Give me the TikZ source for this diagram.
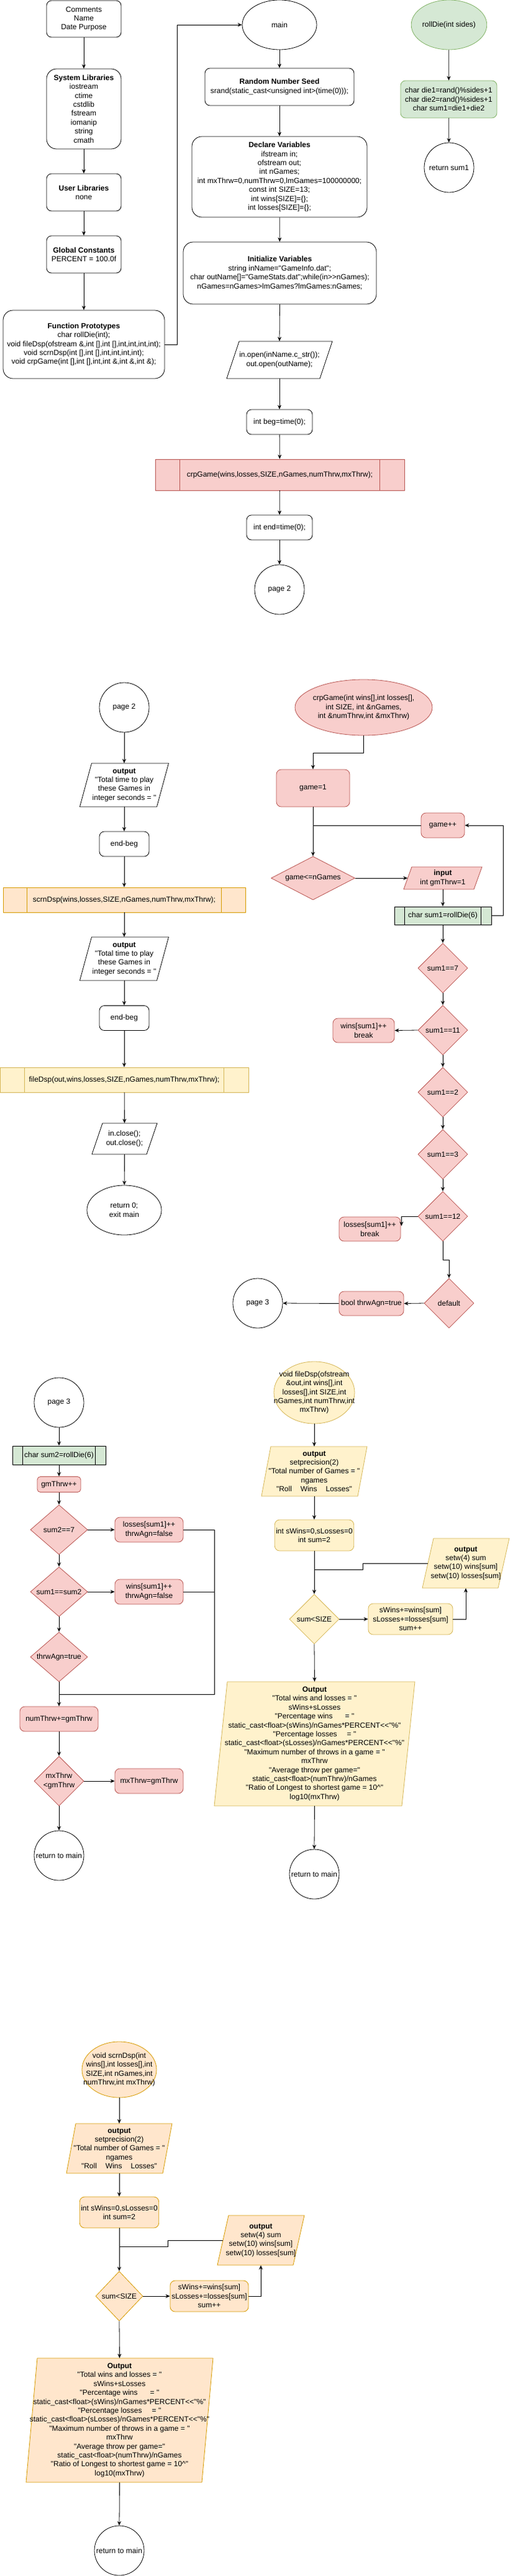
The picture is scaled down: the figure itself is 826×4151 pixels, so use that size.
\documentclass[tikz,border=0pt]{standalone}
\usepackage{fontspec}
\setmainfont{Liberation Sans}[Ligatures=TeXOff]
\usetikzlibrary{shapes.geometric,arrows.meta}
\definecolor{redF}{HTML}{F8CECC}\definecolor{redD}{HTML}{B85450}
\definecolor{grnF}{HTML}{D5E8D4}\definecolor{grnD}{HTML}{82B366}
\definecolor{pchF}{HTML}{FFE6CC}\definecolor{pchD}{HTML}{D79B00}
\definecolor{ylwF}{HTML}{FFF2CC}\definecolor{ylwD}{HTML}{D6B656}
\newcommand{\pgram}[8]{%
  \path[ln,#7] ({#2-#4/2+#6},{#3-#5/2}) -- ({#2+#4/2},{#3-#5/2}) -- ({#2+#4/2-#6},{#3+#5/2}) -- ({#2-#4/2},{#3+#5/2}) -- cycle;
  \node[txt, minimum width=#4, minimum height=#5] (#1) at (#2,#3) {#8};}
\newcommand{\bigouttext}{\textbf{Output}\\
"Total wins and losses = "\\
sWins+sLosses\\
"Percentage wins\hspace{20pt}= "\\
static\_cast<float>(sWins)/nGames*PERCENT<<"\%"\\
"Percentage losses\hspace{16pt}= "\\
static\_cast<float>(sLosses)/nGames*PERCENT<<"\%"\\
"Maximum number of throws in a game = "\\
mxThrw\\
"Average throw per game="\\
static\_cast<float>(numThrw)/nGames\\
"Ratio of Longest to shortest game = 10\textasciicircum"\\
log10(mxThrw)}
\newcommand{\setprectext}{\textbf{output}\\setprecision(2)\\"Total number of Games = "\\ngames\\"Roll\hspace{14pt}Wins\hspace{14pt}Losses"}
\newcommand{\setwtext}{\textbf{output}\\setw(4) sum\\setw(10) wins[sum]\\setw(10) losses[sum]}
\newcommand{\addtext}{sWins+=wins[sum]\\sLosses+=losses[sum]\\sum++}
\newcommand{\ttext}{\textbf{output}\\"Total time to play\\these Games in\\integer seconds = "}
\tikzset{
  every node/.style={font=\fontsize{12}{14.4}\selectfont, align=center},
  ln/.style={line width=0.8pt},
  arr/.style={ln, -{Stealth[length=7pt,width=6pt]}},
  rbox/.style={draw, ln, rounded corners=8pt, fill=white, inner sep=2pt},
  rboxL/.style={rbox, rounded corners=16pt},
  redS/.style={fill=redF, draw=redD},
  grnS/.style={fill=grnF, draw=grnD},
  pchS/.style={fill=pchF, draw=pchD},
  ylwS/.style={fill=ylwF, draw=ylwD},
  plain/.style={fill=white, draw=black},
  dia/.style={diamond, draw, ln, inner sep=0pt},
  ell/.style={ellipse, draw, ln, inner sep=0pt, fill=white},
  circ/.style={circle, draw, ln, inner sep=0pt, minimum size=80pt, fill=white},
  sub/.style={rectangle, draw, ln, inner sep=2pt},
  txt/.style={inner sep=0pt},
  sz/.style 2 args={minimum width=#1, minimum height=#2},
}
\begin{document}
\begin{tikzpicture}[x=1pt,y=-1pt]
\fill[white] (0,0) rectangle (826,4151);
\useasboundingbox (0,0) rectangle (826,4151);

% ===== main program, left column =====
\node[rbox, sz={120}{59}] (cmt) at (135,30.5) {Comments\\Name\\Date Purpose};
\node[rboxL, sz={120}{129}] (syslib) at (135,175.5) {\textbf{System Libraries}\\iostream\\ctime\\cstdlib\\fstream\\iomanip\\string\\cmath};
\node[rbox, sz={120}{60}] (usrlib) at (135,310) {\textbf{User Libraries}\\none};
\node[rbox, sz={120}{60}] (glob) at (135,410) {\textbf{Global Constants}\\PERCENT = 100.0f};
\node[rboxL, sz={260}{110}] (proto) at (135,555) {\textbf{Function Prototypes}\\char rollDie(int);\\void fileDsp(ofstream \&,int [],int [],int,int,int,int);\\void scrnDsp(int [],int [],int,int,int,int);\\void crpGame(int [],int [],int,int \&,int \&,int \&);};
\draw[arr] (cmt) -- (syslib);
\draw[arr] (syslib) -- (usrlib);
\draw[arr] (usrlib) -- (glob);
\draw[arr] (glob) -- (proto);

% ===== main =====
\node[ell, sz={120}{80}] (main) at (450,40) {main};
\draw[arr] (proto.east) -- ++(20,0) |- (main.west);
\node[rbox, sz={240}{60}] (seed) at (450,140) {\textbf{Random Number Seed}\\srand(static\_cast<unsigned int>(time(0)));};
\node[rboxL, sz={282}{130}] (decl) at (450,285) {\textbf{Declare Variables}\\ifstream in;\\ofstream out;\\int nGames;\\int mxThrw=0,numThrw=0,lmGames=100000000;\\const int SIZE=13;\\int wins[SIZE]=\{\};\\int losses[SIZE]=\{\};};
\node[rboxL, sz={311}{100}] (init) at (450.5,440) {\textbf{Initialize Variables}\\string inName="GameInfo.dat";\\char outName[]="GameStats.dat";while(in>>nGames);\\nGames=nGames>lmGames?lmGames:nGames;};
\pgram{io1}{450}{580}{170}{60}{20}{plain}{in.open(inName.c\_str());\\out.open(outName);}
\node[rbox, sz={106}{40}] (beg) at (450,680) {int beg=time(0);};
\node[sub, redS, sz={401}{50}] (crp) at (450.5,765) {crpGame(wins,losses,SIZE,nGames,numThrw,mxThrw);};
\draw[ln, redD] ([xshift=40pt]crp.north west) -- ([xshift=40pt]crp.south west);
\draw[ln, redD] ([xshift=-40pt]crp.north east) -- ([xshift=-40pt]crp.south east);
\node[rbox, sz={106}{40}] (endt) at (450,850) {int end=time(0);};
\node[circ] (pg2a) at (450,950) {page 2};
\draw[arr] (main) -- (seed);
\draw[arr] (seed) -- (decl);
\draw[arr] (decl) -- (init);
\draw[arr] (init.south) -- (io1.north);
\draw[arr] (io1.south) -- (beg.north);
\draw[arr] (beg) -- (crp);
\draw[arr] (crp) -- (endt);
\draw[arr] (endt) -- (pg2a);

% ===== rollDie =====
\node[ell, grnS, sz={120}{80}] (roll) at (723,40) {rollDie(int sides)};
\node[rbox, grnS, sz={155}{60}] (rd1) at (722.5,160) {char die1=rand()\%sides+1\\char die2=rand()\%sides+1\\char sum1=die1+die2};
\node[circ] (ret1) at (723,270) {return sum1};
\draw[arr] (roll) -- (rd1);
\draw[arr] (rd1) -- (ret1);

% ===== page 2 =====
\node[circ] (pg2b) at (200,1140) {page 2};
\pgram{out1}{200}{1265}{143}{70}{19}{plain}{\ttext}
\node[rbox, sz={80}{40}] (eb1) at (200,1360) {end-beg};
\node[sub, pchS, sz={390}{40}] (scrn) at (200,1450) {scrnDsp(wins,losses,SIZE,nGames,numThrw,mxThrw);};
\draw[ln, pchD] ([xshift=39pt]scrn.north west) -- ([xshift=39pt]scrn.south west);
\draw[ln, pchD] ([xshift=-39pt]scrn.north east) -- ([xshift=-39pt]scrn.south east);
\pgram{out2}{200}{1545}{143}{70}{19}{plain}{\ttext}
\node[rbox, sz={80}{40}] (eb2) at (200,1640.5) {end-beg};
\node[sub, ylwS, sz={400}{40}] (filebar) at (200,1740) {fileDsp(out,wins,losses,SIZE,nGames,numThrw,mxThrw);};
\draw[ln, ylwD] ([xshift=40pt]filebar.north west) -- ([xshift=40pt]filebar.south west);
\draw[ln, ylwD] ([xshift=-40pt]filebar.north east) -- ([xshift=-40pt]filebar.south east);
\pgram{io2}{200.5}{1835}{105}{50}{17}{plain}{in.close();\\out.close();}
\node[ell, sz={120}{80}] (ret0) at (200,1950) {return 0;\\exit main};
\draw[arr] (pg2b) -- (out1.north);
\draw[arr] (out1.south) -- (eb1.north);
\draw[arr] (eb1) -- (scrn);
\draw[arr] (scrn) -- (out2.north);
\draw[arr] (out2.south) -- (eb2.north);
\draw[arr] (eb2) -- (filebar);
\draw[arr] (filebar) -- (io2.north);
\draw[arr] (io2.south) -- (ret0);

% ===== crpGame =====
\node[ell, redS, sz={221}{90}] (crpE) at (585.5,1140) {};
\node[txt] (crpEt) at (crpE) {crpGame(int wins[],int losses[],\\int SIZE, int \&nGames,\\int \&numThrw,int \&mxThrw)};
\node[rbox, redS, sz={118}{60}] (g1) at (504,1270) {game=1};
\node[rbox, redS, sz={70}{40}] (gpp) at (713,1330) {game++};
\node[dia, redS, aspect=1.93, sz={135}{70}] (dg) at (504,1415) {game<=nGames};
\pgram{inp}{713}{1415}{126}{36}{13}{redS}{\textbf{input}\\int gmThrw=1}
\node[sub, grnS, draw=black, sz={156}{29}] (rd6) at (713,1475.5) {char sum1=rollDie(6)};
\draw[ln] ([xshift=17pt]rd6.north west) -- ([xshift=17pt]rd6.south west);
\draw[ln] ([xshift=-17pt]rd6.north east) -- ([xshift=-17pt]rd6.south east);
\node[dia, redS, sz={80}{80}] (d7) at (713,1560) {sum1==7};
\node[dia, redS, sz={80}{80}] (d11) at (713,1660) {sum1==11};
\node[rbox, redS, sz={99}{39}] (w11) at (585.5,1660.5) {wins[sum1]++\\break};
\node[dia, redS, sz={80}{80}] (d2) at (713,1760) {sum1==2};
\node[dia, redS, sz={80}{80}] (d3) at (713,1860) {sum1==3};
\node[dia, redS, sz={80}{80}] (d12) at (713,1960) {sum1==12};
\node[rbox, redS, sz={99}{39}] (l12) at (595.5,1980.5) {losses[sum1]++\\break};
\node[dia, redS, sz={80}{80}] (ddef) at (723,2100) {default};
\node[rbox, redS, sz={104}{39}] (bta) at (598,2100.5) {bool thrwAgn=true};
\node[circ] (pg3a) at (415,2100) {page 3};
\draw[arr] (crpE.south) -- ++(0,28) -| (g1.north);
\draw[arr] (g1) -- (dg);
\draw[ln] (gpp.west) -- (gpp.west -| g1.south);
\draw[arr] (dg.east) -- ([xshift=6.5pt]inp.west);
\draw[arr] (inp.south) -- (rd6.north);
\draw[arr] (rd6.east) -- ++(19,0) |- (gpp.east);
\draw[arr] (rd6) -- (d7);
\draw[arr] (d7) -- (d11);
\draw[arr] (d11.west) -- (w11.east);
\draw[arr] (d11) -- (d2);
\draw[arr] (d2) -- (d3);
\draw[arr] (d3) -- (d12);
\draw[arr] (d12.west) -| ([xshift=1pt,yshift=5pt]l12.east);
\draw[arr] (d12.south) -- ++(0,30) -| (ddef.north);
\draw[arr] (ddef.west) -- (bta.east);
\draw[arr] (bta.west) -- (pg3a.east);

% ===== page 3 =====
\node[circ] (pg3b) at (95,2260) {page 3};
\node[sub, grnS, draw=black, sz={150}{30}] (rd6b) at (95,2345) {char sum2=rollDie(6)};
\draw[ln] ([xshift=17pt]rd6b.north west) -- ([xshift=17pt]rd6b.south west);
\draw[ln] ([xshift=-17pt]rd6b.north east) -- ([xshift=-17pt]rd6b.south east);
\node[rbox, redS, rounded corners=5pt, sz={70}{25}] (gpp2) at (95,2392) {gmThrw++};
\node[dia, redS, aspect=1.15, sz={92}{80}] (d27) at (95,2465) {sum2==7};
\node[rbox, redS, sz={110}{40}] (lf) at (240,2465) {losses[sum1]++\\thrwAgn=false};
\node[dia, redS, aspect=1.15, sz={92}{80}] (dss) at (95,2565) {sum1==sum2};
\node[rbox, redS, sz={110}{40}] (wf) at (240,2565) {wins[sum1]++\\thrwAgn=false};
\node[dia, redS, aspect=1.15, sz={92}{80}] (dta) at (95,2670) {thrwAgn=true};
\node[rbox, redS, sz={126}{40}] (nt) at (95,2770) {numThrw+=gmThrw};
\node[dia, redS, sz={80}{80}] (dmx) at (95,2870) {mxThrw\\<gmThrw};
\node[rbox, redS, sz={110}{40}] (mx) at (240,2870) {mxThrw=gmThrw};
\node[circ] (ret3) at (95,2990) {return to main};
\coordinate (j3) at (345,2730);
\draw[arr] (pg3b) -- (rd6b);
\draw[arr] (rd6b) -- (gpp2);
\draw[arr] (gpp2) -- (d27);
\draw[arr] (d27) -- (dss);
\draw[arr] (dss) -- (dta);
\draw[arr] (dta) -- (nt);
\draw[arr] (nt) -- (dmx);
\draw[arr] (dmx) -- (ret3);
\draw[arr] (d27.east) -- (lf.west);
\draw[arr] (dss.east) -- (wf.west);
\draw[arr] (dmx.east) -- (mx.west);
\draw[ln] (lf.east) -| (j3) -- (j3 -| nt.north);
\draw[ln] (wf.east) -- (wf.east -| j3);

% ===== fileDsp =====
\node[ell, ylwS, sz={130}{100}] (fE) at (506,2244) {};
\node[txt] (fEt) at (fE) {void fileDsp(ofstream\\\&out,int wins[],int\\losses[],int SIZE,int\\nGames,int numThrw,int\\mxThrw)};
\pgram{fOut}{506}{2371}{170}{80}{15}{ylwS}{\setprectext}
\node[rbox, ylwS, sz={124}{50}] (fSw) at (506,2474) {int sWins=0,sLosses=0\\int sum=2};
\pgram{fSet}{750}{2519}{140}{80}{18}{ylwS}{\setwtext}
\node[dia, ylwS, sz={80}{80}] (fD) at (506,2609) {sum<SIZE};
\node[rbox, ylwS, sz={136}{50}] (fAdd) at (661,2609) {\addtext};
\pgram{fBig}{506.5}{2810}{323}{200}{21}{ylwS}{\bigouttext}
\node[circ] (fRet) at (506,3020) {return to main};
\coordinate (fj) at (506,2529);
\draw[arr] (fE) -- (fOut.north);
\draw[arr] (fOut.south) -- (fSw.north);
\draw[arr] (fSw) -- (fD);
\draw[ln] ([xshift=9pt]fSet.west) -- ++(-104,0) -- ++(0,10) -- (fj);
\draw[arr] (fD.east) -- (fAdd.west);
\draw[arr] (fAdd.east) -| (fSet.south);
\draw[arr] (fD.south) -- (fBig.north);
\draw[arr] (fBig.south) -- (fRet.north);

% ===== scrnDsp =====
\node[ell, pchS, sz={120}{90}] (sE) at (192,3335) {};
\node[txt] (sEt) at (sE) {void scrnDsp(int\\wins[],int losses[],int\\SIZE,int nGames,int\\numThrw,int mxThrw)};
\pgram{sOut}{192}{3462}{170}{80}{15}{pchS}{\setprectext}
\node[rbox, pchS, sz={124}{50}] (sSw) at (192,3565) {int sWins=0,sLosses=0\\int sum=2};
\pgram{sSet}{420}{3610}{140}{80}{18}{pchS}{\setwtext}
\node[dia, pchS, sz={76}{80}] (sD) at (192,3700) {sum<SIZE};
\node[rbox, pchS, sz={126}{50}] (sAdd) at (337,3700) {\addtext};
\pgram{sBig}{192.5}{3900}{301}{200}{18}{pchS}{\bigouttext}
\node[circ] (sRet) at (192,4110) {return to main};
\coordinate (sj) at (192,3620);
\draw[arr] (sE) -- (sOut.north);
\draw[arr] (sOut.south) -- (sSw.north);
\draw[arr] (sSw) -- (sD);
\draw[ln] ([xshift=9pt]sSet.west) -- ++(-88,0) -- ++(0,10) -- (sj);
\draw[arr] (sD.east) -- (sAdd.west);
\draw[arr] (sAdd.east) -| (sSet.south);
\draw[arr] (sD.south) -- (sBig.north);
\draw[arr] (sBig.south) -- (sRet.north);
\end{tikzpicture}
\end{document}
